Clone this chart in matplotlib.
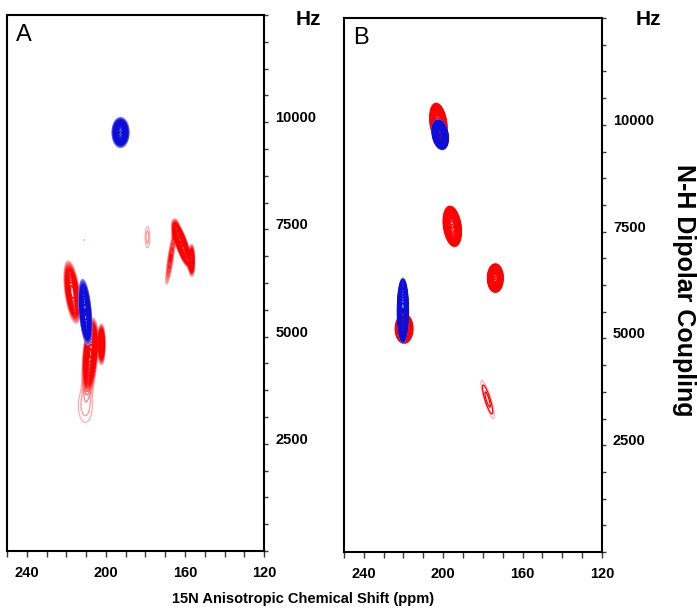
import numpy as np
import matplotlib.pyplot as plt
from matplotlib import font_manager
from matplotlib.ticker import MultipleLocator

# peaks: 15N shift (ppm), N-H coupling (Hz), half width ppm, half width Hz,
# drift of the ridge (ppm per 1000 Hz), height
a_red_ppm = [217.0, 207.8, 202.2, 210.4, 161.7, 167.3, 156.6, 179.0, 210.9]
a_red_hz = [6040, 4620, 4830, 3390, 7160, 6830, 6790, 7320, 7250]
a_red_wppm = [1.8, 1.55, 0.9, 6.0, 1.35, 1.0, 0.8, 2.0, 0.3]
a_red_whz = [360, 360, 240, 660, 255, 480, 210, 420, 50]
a_red_drift = [2.8, -1.6, 0, 0, 7.0, -3.3, 0, 0, 0]
a_red_amp = [0.6, 1.0, 0.5, 0.095, 0.9, 0.18, 0.35, 0.095, 0.085]

a_blue_ppm = [192.6, 210.4]
a_blue_hz = [9760, 5570]
a_blue_wppm = [1.9, 1.3]
a_blue_whz = [155, 340]
a_blue_drift = [0, 1.8]
a_blue_amp = [1.0, 1.0]

b_red_ppm = [202.4, 195.4, 173.7, 219.7, 177.6]
b_red_hz = [10040, 7625, 6413, 5230, 3570]
b_red_wppm = [1.9, 2.0, 1.8, 2.0, 2.4]
b_red_whz = [210, 212, 150, 155, 600]
b_red_drift = [2.5, 2.5, 0, 0, 6.5]
b_red_amp = [1.0, 1.0, 1.0, 1.0, 0.105]

b_blue_ppm = [201.5, 220.3]
b_blue_hz = [9770, 5650]
b_blue_wppm = [1.8, 1.35]
b_blue_whz = [155, 365]
b_blue_drift = [3.0, 0]
b_blue_amp = [1.0, 0.7]

x_ticks = [240, 200, 160, 120]
y_ticks = [2500, 5000, 7500, 10000]

# narrow bold face if present, else plain one a bit smaller
installed = {f.name for f in font_manager.fontManager.ttflist}
if 'Liberation Sans Narrow' in installed:
    narrow, tick_fs, xlab_fs = 'Liberation Sans Narrow', 12, 12.5
else:
    narrow, tick_fs, xlab_fs = 'Liberation Sans', 10.5, 10.5

X, Y = np.meshgrid(np.linspace(120, 250, 900), np.linspace(0, 12500, 1600))


def spectrum(ppm, hz, wppm, whz, drift, amp):
    z = np.zeros_like(X)
    for x0, y0, sx, sy, c, h in zip(ppm, hz, wppm, whz, drift, amp):
        dy = Y - y0
        dx = X - x0 - c * dy / 1000.0
        z += h * np.exp(-0.5 * (dx / sx) ** 2 - 0.5 * (dy / sy) ** 2)
    return z


levels = 0.08 * 1.12 ** np.arange(25)


def level_colors(pale, full, fade):
    cols = []
    for i in range(len(levels)):
        t = min(i / fade, 1.0)
        cols.append(tuple(p + (f - p) * t for p, f in zip(pale, full)))
    return cols


fig = plt.figure(figsize=(6.97, 6.13), dpi=100)
ax_a = fig.add_axes([0.010, 0.101, 0.369, 0.8745])
ax_b = fig.add_axes([0.4935, 0.0995, 0.370, 0.871])

panels = [
    (ax_a, 'A', 7, (a_red_ppm, a_red_hz, a_red_wppm, a_red_whz, a_red_drift, a_red_amp),
     (a_blue_ppm, a_blue_hz, a_blue_wppm, a_blue_whz, a_blue_drift, a_blue_amp)),
    (ax_b, 'B', 1, (b_red_ppm, b_red_hz, b_red_wppm, b_red_whz, b_red_drift, b_red_amp),
     (b_blue_ppm, b_blue_hz, b_blue_wppm, b_blue_whz, b_blue_drift, b_blue_amp)),
]

for ax, tag, fade, red, blue in panels:
    red_cols = level_colors((1.0, 0.68, 0.68), (1.0, 0.0, 0.0), fade)
    blue_cols = level_colors((0.55, 0.55, 1.0), (0.05, 0.05, 0.85), fade)
    ax.contour(X, Y, spectrum(*red), levels=levels, colors=red_cols, linewidths=0.9)
    ax.contour(X, Y, spectrum(*blue), levels=levels, colors=blue_cols, linewidths=0.9)

    ax.set_xlim(250, 120)
    ax.set_ylim(0, 12500)
    ax.yaxis.tick_right()
    ax.set_xticks(x_ticks, labels=[str(v) for v in x_ticks],
                  fontfamily=narrow, fontweight='bold', fontsize=tick_fs)
    ax.set_yticks(y_ticks, labels=[str(v) for v in y_ticks],
                  fontfamily=narrow, fontweight='bold', fontsize=tick_fs, va='baseline')
    ax.xaxis.set_minor_locator(MultipleLocator(10))
    ax.yaxis.set_minor_locator(MultipleLocator(625))
    ax.tick_params(axis='x', which='both', direction='out', length=4, width=1,
                   color='#333366', pad=6.5)
    ax.tick_params(axis='y', which='both', direction='out', length=3, width=1,
                   color='#333366', pad=5)
    for s in ax.spines.values():
        s.set_linewidth(1.5)
        s.set_color('black')

    ax.text(0.035, 0.952, tag, transform=ax.transAxes, fontsize=17,
            family='Liberation Sans', va='baseline', ha='left')

fig.text(0.442, 0.959, 'Hz', fontsize=15, fontweight='bold', family='Liberation Sans',
         ha='center', va='baseline')
fig.text(0.930, 0.959, 'Hz', fontsize=15, fontweight='bold', family='Liberation Sans',
         ha='center', va='baseline')
fig.text(0.981, 0.527, 'N-H Dipolar Coupling', rotation=-90, fontsize=18,
         fontweight='bold', family='Liberation Sans', ha='center', va='center')
fig.text(0.435, 0.016, '15N Anisotropic Chemical Shift (ppm)', fontsize=xlab_fs,
         fontweight='bold', family=narrow, ha='center', va='baseline')

fig.savefig('out.png', dpi=100, facecolor='white')
